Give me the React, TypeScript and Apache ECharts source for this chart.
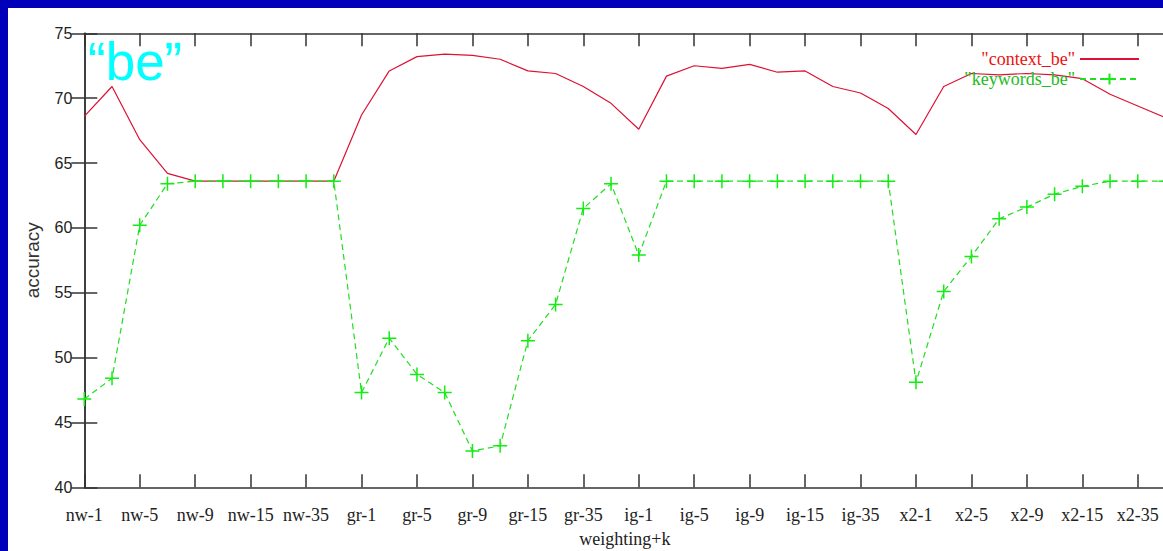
import React, { useEffect, useRef } from "react";
import * as echarts from "echarts";

const tickLabels = [
  "nw-1", "nw-5", "nw-9", "nw-15", "nw-35",
  "gr-1", "gr-5", "gr-9", "gr-15", "gr-35",
  "ig-1", "ig-5", "ig-9", "ig-15", "ig-35",
  "x2-1", "x2-5", "x2-9", "x2-15", "x2-35",
];

const contextBe = [
  68.6, 70.9, 66.8, 64.2, 63.6, 63.6, 63.6, 63.6, 63.6, 63.6,
  68.7, 72.1, 73.2, 73.4, 73.3, 73.0, 72.1, 71.9, 70.9, 69.6,
  67.6, 71.7, 72.5, 72.3, 72.6, 72.0, 72.1, 70.9, 70.4, 69.2,
  67.2, 70.9, 71.9, 71.8, 71.9, 71.8, 71.5, 70.3, 69.4, 68.5,
];

const keywordsBe = [
  46.8, 48.4, 60.2, 63.4, 63.6, 63.6, 63.6, 63.6, 63.6, 63.6,
  47.3, 51.5, 48.7, 47.3, 42.8, 43.2, 51.3, 54.1, 61.5, 63.4,
  57.9, 63.6, 63.6, 63.6, 63.6, 63.6, 63.6, 63.6, 63.6, 63.6,
  48.1, 55.1, 57.8, 60.7, 61.6, 62.6, 63.2, 63.6, 63.6, 63.6,
];

const RED = "#dd1133";
const GREEN = "#22dd22";
const PLUS = "path://M5 0 L5 10 M0 5 L10 5";

export default function App() {
  const ref = useRef<HTMLDivElement>(null);
  useEffect(() => {
    if (!ref.current) return;
    const chart = echarts.init(ref.current, null, { renderer: "svg" });
    const xCommon = {
      type: "value" as const,
      min: 0,
      max: contextBe.length - 1,
      interval: 2,
      splitLine: { show: false },
      axisLine: { show: true, lineStyle: { color: "#333", width: 1.5 } },
      axisTick: { show: true, inside: true, length: 13, lineStyle: { color: "#333", width: 1.5 } },
    };
    const yCommon = {
      type: "value" as const,
      min: 40,
      max: 75,
      interval: 5,
      splitLine: { show: false },
      axisLine: { show: true, lineStyle: { color: "#333", width: 1.5 } },
      axisTick: { show: true, inside: true, length: 13, lineStyle: { color: "#333", width: 1.5 } },
    };
    chart.setOption({
      animation: false,
      backgroundColor: "#ffffff",
      grid: { left: 76.3, right: 12.5, top: 25.3, bottom: 63.7, outerBoundsMode: "none", containLabel: false },
      legend: {
        orient: "vertical",
        right: 33,
        top: 37,
        align: "right",
        itemWidth: 59,
        itemHeight: 14,
        itemGap: 2,
        textStyle: { fontFamily: "Liberation Serif", fontSize: 18 },
        data: [
          { name: '"context_be"', textStyle: { color: "#ee1111" }, itemStyle: { opacity: 0 } },
          { name: '"keywords_be"', textStyle: { color: "#22bb22" } },
        ],
      },
      xAxis: [
        {
          ...xCommon,
          position: "bottom",
          name: "weighting+k",
          nameLocation: "middle",
          nameGap: 43,
          nameTextStyle: { fontFamily: "Liberation Serif", fontSize: 18, color: "#222" },
          axisLabel: {
            margin: 19,
            fontFamily: "Liberation Serif",
            fontSize: 18,
            color: "#222",
            showMaxLabel: false,
            formatter: (v: number) => (v % 2 === 0 ? tickLabels[v / 2] ?? "" : ""),
          },
        },
        { ...xCommon, position: "top", axisLabel: { show: false } },
      ],
      yAxis: [
        {
          ...yCommon,
          position: "left",
          name: "accuracy",
          nameLocation: "middle",
          nameGap: 42,
          nameTextStyle: { fontFamily: "Liberation Sans", fontSize: 19, color: "#333" },
          axisLabel: { margin: 12, fontFamily: "Liberation Sans", fontSize: 16, color: "#222" },
        },
        { ...yCommon, position: "right", axisLabel: { show: false } },
      ],
      graphic: [
        {
          type: "text",
          left: 80,
          top: 27,
          style: {
            text: "\u201Cbe\u201D",
            fill: "#00ffff",
            font: "53px 'Liberation Sans'",
          },
        },
      ],
      series: [
        {
          name: '"context_be"',
          type: "line",
          data: contextBe.map((v, i) => [i, v]),
          showSymbol: false,
          symbol: "none",
          lineStyle: { color: RED, width: 1.2 },
          itemStyle: { color: RED },
        },
        {
          name: '"keywords_be"',
          type: "line",
          data: keywordsBe.map((v, i) => [i, v]),
          symbol: PLUS,
          symbolSize: 14,
          lineStyle: { color: GREEN, width: 1.2, type: [6, 4] },
          itemStyle: { color: "none", borderColor: "#11ee11", borderWidth: 1.5 },
        },
      ],
    });
    return () => chart.dispose();
  }, []);
  return (
    <div
      style={{
        position: "fixed",
        left: 0,
        top: 0,
        width: 1163,
        height: 551,
        overflow: "hidden",
        background: "#0000bb",
      }}
    >
      <div
        ref={ref}
        style={{ position: "absolute", left: 8, top: 8, width: 1170, height: 543, background: "#fff" }}
      />
    </div>
  );
}
